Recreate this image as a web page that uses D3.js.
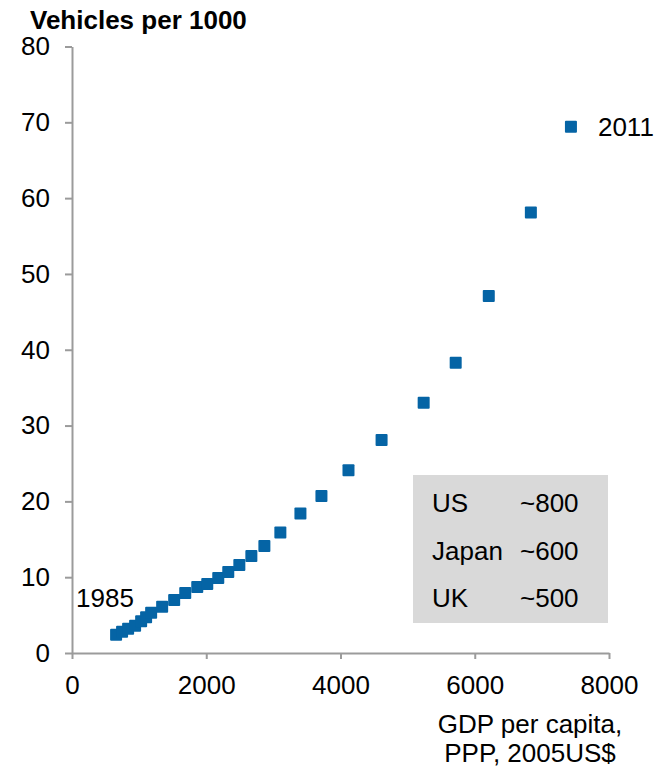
<!DOCTYPE html>
<html>
<head>
<meta charset="utf-8">
<script src="https://cdn.jsdelivr.net/npm/d3@7.9.0/dist/d3.min.js"></script>
<style>
  body { margin: 0; background: #fff; }
  svg text { font-family: "Liberation Sans", Arial, sans-serif; fill: #000; }
</style>
</head>
<body>
<svg id="chart" width="665" height="768"></svg>
<script>
// GDP per capita (PPP, 2005 US$) and vehicles per 1000 people, 1985-2011
const years = d3.range(1985, 2012);
const gdp = [657, 746, 836, 940, 1030, 1104, 1179, 1343, 1522, 1687, 1866, 2015, 2179, 2328,
  2493, 2672, 2866, 3104, 3403, 3716, 4119, 4612, 5239, 5716, 6209, 6836, 7433];
const vehicles = [2.4, 2.8, 3.2, 3.6, 4.2, 4.7, 5.3, 6.1, 7.0, 7.9, 8.7, 9.1, 9.9, 10.7,
  11.6, 12.8, 14.1, 15.9, 18.4, 20.7, 24.1, 28.1, 33.0, 38.3, 47.1, 58.1, 69.4];
const xTicks = [0, 2000, 4000, 6000, 8000];
const yTicks = [0, 10, 20, 30, 40, 50, 60, 70, 80];
const countries = ['US', 'Japan', 'UK'];
const ownership = ['~800', '~600', '~500'];

const points = years.map((yr, i) => ({ year: yr, gdp: gdp[i], veh: vehicles[i] }));

const svg = d3.select('#chart');
const axisColor = '#9b9b9b';
const blue = '#0564a5';
const fs = '26px';

const x = d3.scaleLinear().domain([0, 8000]).range([72, 609]);
const y = d3.scaleLinear().domain([0, 80]).range([653, 46.5]);

// y axis
const yAxis = svg.append('g')
  .attr('transform', `translate(${x(0)},0)`)
  .call(d3.axisLeft(y).tickValues(yTicks).tickFormat(d3.format('d'))
    .tickSize(7).tickPadding(15).tickSizeOuter(0));
// x axis
const xAxis = svg.append('g')
  .attr('transform', `translate(0,${y(0)})`)
  .call(d3.axisBottom(x).tickValues(xTicks).tickFormat(d3.format('d'))
    .tickSize(6).tickPadding(16).tickSizeOuter(0));

[yAxis, xAxis].forEach(g => {
  g.select('.domain').attr('stroke', axisColor).attr('stroke-width', 2);
  g.selectAll('.tick line').attr('stroke', axisColor).attr('stroke-width', 2);
  g.selectAll('.tick text')
    .style('font-family', '"Liberation Sans", Arial, sans-serif')
    .style('font-size', fs)
    .attr('fill', '#000');
});
xAxis.selectAll('.tick text').attr('dy', '0.72em');

// title
svg.append('text')
  .attr('x', 30).attr('y', 29)
  .style('font-size', '26px').style('font-weight', 'bold')
  .text('Vehicles per 1000');

// x axis title
svg.append('text')
  .attr('x', 530).attr('y', 733)
  .attr('text-anchor', 'middle')
  .style('font-size', fs)
  .text('GDP per capita,');
svg.append('text')
  .attr('x', 530).attr('y', 762)
  .attr('text-anchor', 'middle')
  .style('font-size', fs)
  .text('PPP, 2005US$');

// grey info box
const boxG = svg.append('g');
boxG.append('rect')
  .attr('x', 413).attr('y', 475)
  .attr('width', 195).attr('height', 148)
  .attr('fill', '#d9d9d9');
countries.forEach((c, i) => {
  boxG.append('text')
    .attr('x', 432).attr('y', 512 + i * 47.5)
    .style('font-size', fs)
    .text(c);
  boxG.append('text')
    .attr('x', 520).attr('y', 512 + i * 47.5)
    .style('font-size', fs)
    .text(ownership[i]);
});

// markers
const size = 12;
svg.append('g')
  .selectAll('rect')
  .data(points)
  .join('rect')
  .attr('x', d => x(d.gdp) - size / 2)
  .attr('y', d => y(d.veh) - size / 2)
  .attr('width', size)
  .attr('height', size)
  .attr('rx', 1)
  .attr('fill', blue);

// first / last year labels
const first = points[0];
const last = points[points.length - 1];
svg.append('text')
  .attr('x', x(first.gdp) - 40).attr('y', y(first.veh) - 28)
  .style('font-size', fs)
  .text(first.year);
svg.append('text')
  .attr('x', x(last.gdp) + 27).attr('y', y(last.veh) + 9)
  .style('font-size', fs)
  .text(last.year);
</script>
</body>
</html>
